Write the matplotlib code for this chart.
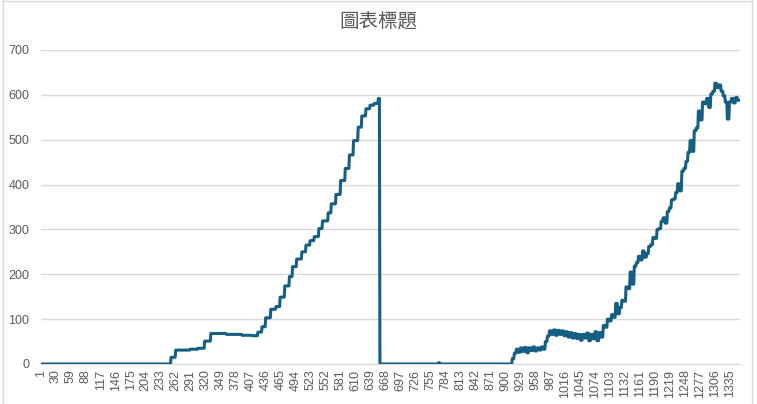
import numpy as np
import matplotlib
matplotlib.use('Agg')
import matplotlib.pyplot as plt
from matplotlib.lines import Line2D

plt.rcParams['font.family'] = ['Liberation Sans', 'Noto Sans CJK TC', 'DejaVu Sans']

n_points = 1352

# step part: value holds from this index on
step_start = [1, 253, 262, 290, 305, 318, 330, 360, 390, 410, 421, 429, 436,
              446, 456, 464, 473, 482, 488, 496, 506, 514, 522, 530, 539,
              546, 557, 563, 572, 581, 590, 598, 606, 615, 622, 630, 638,
              646, 654, 657, 771, 773]
step_value = [0, 15, 31, 33, 35, 51, 68, 66, 64, 63, 71, 83, 103,
              122, 128, 149, 174, 195, 217, 234, 250, 265, 275, 284, 302,
              319, 337, 357, 378, 409, 436, 466, 498, 528, 553, 569, 577,
              581, 592, 0, 3, 0]

# noisy part, one value per block of 4 points
tail_start = 913
tail_block = 4
tail_value = [12, 24, 33, 26, 36, 28, 37, 25, 36, 30, 38, 29, 36, 31, 38, 33,
              50, 62, 74, 66, 76, 64, 75, 66, 74, 63, 72, 60, 70, 58, 68, 57,
              66, 53, 66, 58, 69, 52, 66, 56, 72, 52, 70, 60, 86, 82, 100, 96,
              110, 104, 135, 112, 126, 142, 140, 172, 168, 205, 178, 218, 226,
              240, 232, 252, 238, 246, 262, 266, 282, 280, 300, 302, 318, 326,
              314, 340, 348, 366, 368, 382, 402, 386, 430, 436, 452, 472, 498,
              474, 520, 526, 564, 544, 584, 580, 592, 572, 602, 608, 626, 616,
              622, 608, 598, 584, 546, 584, 592, 582, 594, 588]

y = np.zeros(n_points)
for s, v in zip(step_start, step_value):
    y[s - 1:] = v
tail = np.repeat(tail_value, tail_block)[:n_points - tail_start + 1]
y[tail_start - 1:tail_start - 1 + len(tail)] = tail
x = np.arange(1, n_points + 1)

tick_labels = list(range(1, n_points + 1, 29))

fig = plt.figure(figsize=(7.57, 4.04), dpi=100)
ax = fig.add_axes([40.5 / 757, 1 - 364 / 404, 699 / 757, 314 / 404])

ax.plot(x, y, color='#156082', lw=2.2, solid_joinstyle='round', zorder=3)

ax.set_xlim(0.5, n_points + 0.5)
ax.set_ylim(0, 700)
ax.set_yticks(range(0, 701, 100))
ax.set_xticks(tick_labels)
ax.set_xticklabels([str(t) for t in tick_labels], rotation=90)
ax.grid(axis='y', color='#d9d9d9', lw=1)
ax.set_axisbelow(True)
for sp in ['top', 'right', 'left']:
    ax.spines[sp].set_visible(False)
ax.spines['bottom'].set_color('#d9d9d9')
ax.tick_params(axis='both', length=0, colors='#595959', labelsize=9)
ax.tick_params(axis='y', pad=8)
ax.tick_params(axis='x', pad=4)

fig.text(378 / 757, 1 - 22 / 404, '圖表標題', ha='center', va='center',
         fontsize=14, color='#595959', family=['Noto Sans CJK TC', 'DejaVu Sans'])

# chart frame
for xx in [3 / 757, 752 / 757]:
    fig.add_artist(Line2D([xx, xx], [0, 1], color='#d9d9d9', lw=1))
fig.add_artist(Line2D([3 / 757, 752 / 757], [0.998, 0.998], color='#d9d9d9', lw=1))

fig.savefig('out.png', dpi=100)
